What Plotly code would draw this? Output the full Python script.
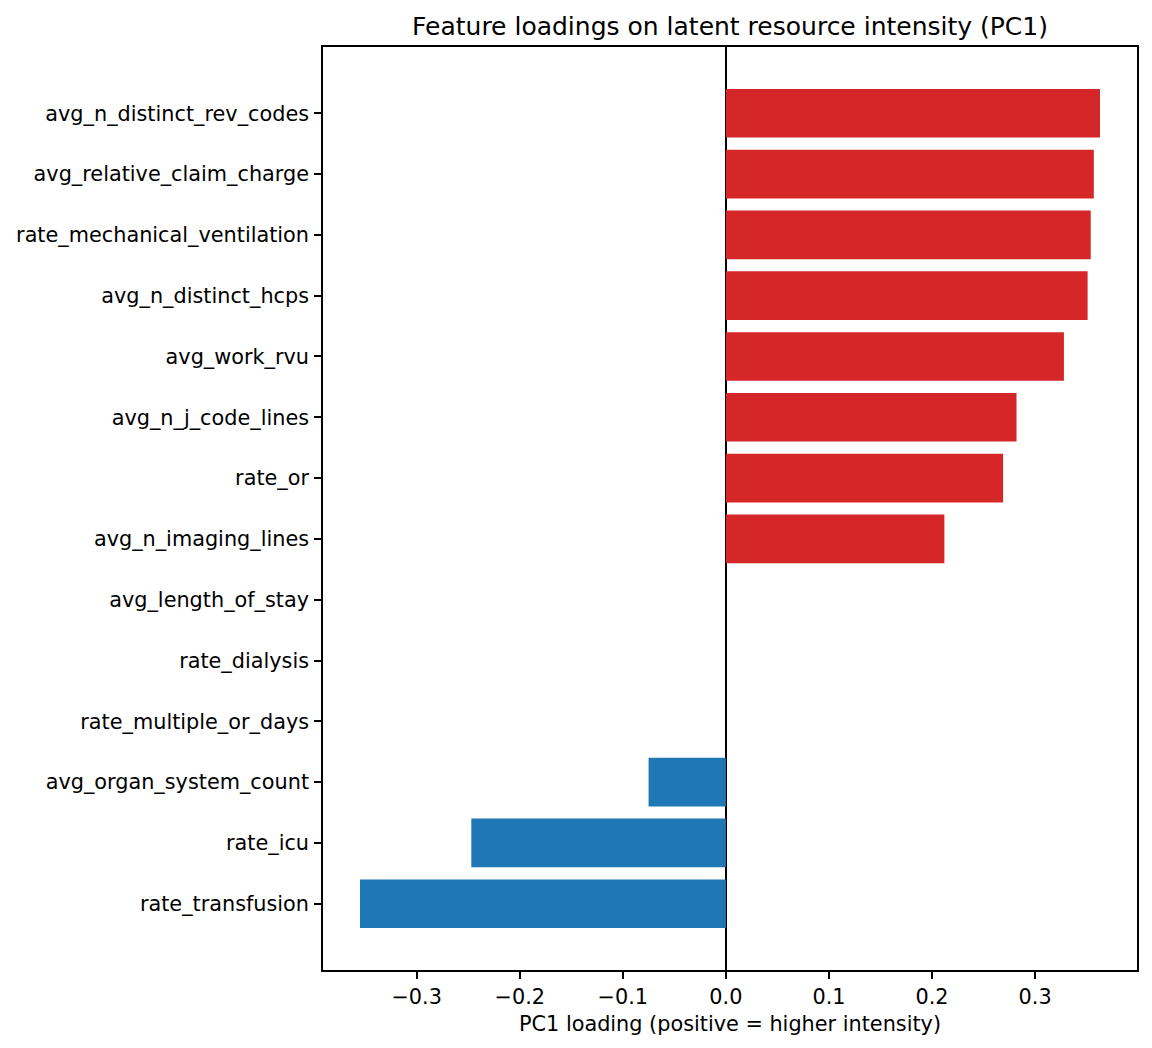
import plotly.graph_objects as go

features = [
    "avg_n_distinct_rev_codes",
    "avg_relative_claim_charge",
    "rate_mechanical_ventilation",
    "avg_n_distinct_hcps",
    "avg_work_rvu",
    "avg_n_j_code_lines",
    "rate_or",
    "avg_n_imaging_lines",
    "avg_length_of_stay",
    "rate_dialysis",
    "rate_multiple_or_days",
    "avg_organ_system_count",
    "rate_icu",
    "rate_transfusion",
]
loadings = [0.363, 0.357, 0.354, 0.351, 0.328, 0.282, 0.269, 0.212,
            0.0, 0.0, 0.0, -0.075, -0.247, -0.355]
x_ticks = [-0.3, -0.2, -0.1, 0.0, 0.1, 0.2, 0.3]

POS_COLOR = "#d62728"
NEG_COLOR = "#1f77b4"
colors = [POS_COLOR if v > 0 else NEG_COLOR for v in loadings]

FONT = "DejaVu Sans"

fig = go.Figure(
    go.Bar(
        x=loadings,
        y=features,
        orientation="h",
        marker=dict(color=colors, line=dict(width=0)),
        showlegend=False,
    )
)

n = len(features)
vmin, vmax = min(loadings), max(loadings)
span = vmax - vmin
xr = [vmin - 0.05 * span, vmax + 0.05 * span]
ymargin = 0.05 * (n - 1 + 0.8)
yr = [n - 1 + 0.4 + ymargin, -0.4 - ymargin]

fig.update_layout(
    width=1144,
    height=1040,
    margin=dict(l=315, r=15, t=39, b=78, pad=0, autoexpand=False),
    paper_bgcolor="white",
    plot_bgcolor="white",
    bargap=0.2,
    font=dict(family=FONT, size=20.8, color="black"),
    title=dict(
        text="Feature loadings on latent resource intensity (PC1)",
        font=dict(family=FONT, size=25, color="black"),
        x=0.5,
        xref="paper",
        xanchor="center",
        y=1,
        yref="paper",
        yanchor="bottom",
        pad=dict(b=12),
    ),
    xaxis=dict(
        range=xr,
        automargin=False,
        tickvals=x_ticks,
        tickformat=".1f",
        ticks="outside",
        ticklen=7,
        tickwidth=1.6,
        tickcolor="black",
        showline=True,
        linecolor="black",
        linewidth=1.6,
        mirror=True,
        showgrid=False,
        zeroline=True,
        zerolinecolor="black",
        zerolinewidth=1.6,
        tickfont=dict(family=FONT, size=20.8, color="black"),
        title=dict(
            text="PC1 loading (positive = higher intensity)",
            font=dict(family=FONT, size=20.8, color="black"),
            standoff=9,
        ),
    ),
    yaxis=dict(
        type="category",
        automargin=False,
        categoryorder="array",
        categoryarray=features,
        range=yr,
        ticks="outside",
        ticklen=7,
        tickwidth=1.6,
        tickcolor="black",
        showline=True,
        linecolor="black",
        linewidth=1.6,
        mirror=True,
        showgrid=False,
        tickfont=dict(family=FONT, size=20.8, color="black"),
        ticklabelstandoff=1,
    ),
)

fig.write_html("out.html")
